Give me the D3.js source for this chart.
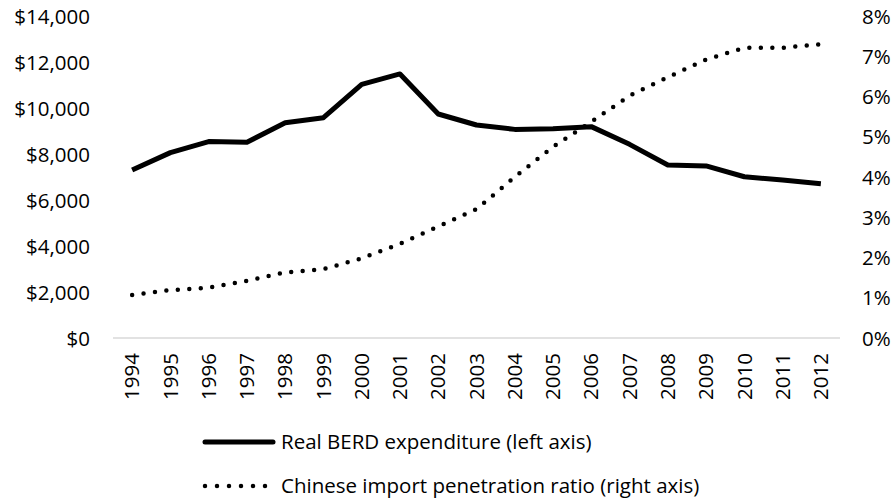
<!DOCTYPE html>
<html lang="en">
<head>
    <meta charset="UTF-8">
    <script src="https://cdn.jsdelivr.net/npm/d3@7"></script>
    <title>BERD and Chinese import penetration</title>
    <style>
        body { margin: 0; background: #fff; }
        text { font-family: "Open Sans", sans-serif; fill: #000; }
    </style>
</head>
<body>
    <script>
        const w = 894;
        const h = 500;
        const margin = {top: 16, right: 54, bottom: 162, left: 113};
        const fontSize = "20.5px";

        const years = ["1994","1995","1996","1997","1998","1999","2000","2001","2002","2003",
                       "2004","2005","2006","2007","2008","2009","2010","2011","2012"];
        const berd = [7300, 8060, 8540, 8510, 9360, 9580, 11030, 11480, 9740, 9260,
                      9070, 9100, 9190, 8420, 7520, 7480, 7010, 6870, 6710];
        const importRatio = [1.07, 1.19, 1.25, 1.42, 1.63, 1.71, 1.98, 2.34, 2.77, 3.2,
                             4.0, 4.75, 5.37, 6.02, 6.48, 6.92, 7.21, 7.21, 7.3];
        const leftTicks = [0, 2000, 4000, 6000, 8000, 10000, 12000, 14000];
        const rightTicks = [0, 1, 2, 3, 4, 5, 6, 7, 8];
        const legendLabels = ["Real BERD expenditure (left axis)", "Chinese import penetration ratio (right axis)"];

        const svg = d3.select("body")
                        .append("svg")
                        .attr("width", w)
                        .attr("height", h);

        const xScale = d3.scaleBand()
                            .domain(years)
                            .range([margin.left, w - margin.right]);

        const yLeft = d3.scaleLinear()
                            .domain([0, 14000])
                            .range([h - margin.bottom, margin.top]);

        const yRight = d3.scaleLinear()
                            .domain([0, 8])
                            .range([h - margin.bottom, margin.top]);

        //left axis
        const leftAxis = d3.axisLeft(yLeft)
                            .tickValues(leftTicks)
                            .tickSize(0)
                            .tickPadding(0)
                            .tickFormat(d => "$" + d3.format(",")(d));

        const gl = svg.append("g")
            .attr("transform", "translate(90,0)")
            .call(leftAxis);
        gl.select(".domain").remove();
        gl.selectAll("text").style("font-size", fontSize).attr("dy", "0.35em");

        //right axis
        const rightAxis = d3.axisRight(yRight)
                            .tickValues(rightTicks)
                            .tickSize(0)
                            .tickPadding(0)
                            .tickFormat(d => d + "%");

        const gr = svg.append("g")
            .attr("transform", "translate(862,0)")
            .call(rightAxis);
        gr.select(".domain").remove();
        gr.selectAll("text").style("font-size", fontSize).attr("dy", "0.35em");

        //baseline
        svg.append("line")
            .attr("x1", xScale.range()[0])
            .attr("x2", xScale.range()[1])
            .attr("y1", yLeft(0))
            .attr("y2", yLeft(0))
            .attr("stroke", "#d9d9d9")
            .attr("stroke-width", 1.5);

        //x axis labels
        const xAxis = d3.axisBottom(xScale).tickSize(0).tickPadding(0);
        const gx = svg.append("g")
            .attr("transform", "translate(0," + (yLeft(0) + 15) + ")")
            .call(xAxis);
        gx.select(".domain").remove();
        gx.selectAll("text")
            .style("font-size", fontSize)
            .attr("text-anchor", "end")
            .attr("transform", "rotate(-90)")
            .attr("x", 0)
            .attr("y", 0)
            .attr("dy", "0.35em");

        const cx = d => xScale(d) + xScale.bandwidth() / 2;

        //lines
        const berdLine = d3.line()
                            .x((d, i) => cx(years[i]))
                            .y(d => yLeft(d));

        const importLine = d3.line()
                            .x((d, i) => cx(years[i]))
                            .y(d => yRight(d));

        svg.append("path")
            .datum(importRatio)
            .attr("d", importLine)
            .attr("fill", "none")
            .attr("stroke", "#000")
            .attr("stroke-width", 4.5)
            .attr("stroke-linecap", "round")
            .attr("stroke-dasharray", "0 11.5");

        svg.append("path")
            .datum(berd)
            .attr("d", berdLine)
            .attr("fill", "none")
            .attr("stroke", "#000")
            .attr("stroke-width", 5)
            .attr("stroke-linejoin", "round");

        //legend
        const legend = svg.append("g");
        const rowY = [442, 486];

        legend.append("line")
            .attr("x1", 205).attr("x2", 273)
            .attr("y1", rowY[0]).attr("y2", rowY[0])
            .attr("stroke", "#000")
            .attr("stroke-width", 5)
            .attr("stroke-linecap", "round");

        legend.append("line")
            .attr("x1", 205).attr("x2", 267)
            .attr("y1", rowY[1]).attr("y2", rowY[1])
            .attr("stroke", "#000")
            .attr("stroke-width", 4.5)
            .attr("stroke-linecap", "round")
            .attr("stroke-dasharray", "0 12");

        legend.selectAll("text.leg")
            .data(legendLabels)
            .enter()
            .append("text")
            .attr("class", "leg")
            .attr("x", 281)
            .attr("y", (d, i) => rowY[i])
            .attr("dy", "0.35em")
            .style("font-size", fontSize)
            .text(d => d);
    </script>
</body>
</html>
